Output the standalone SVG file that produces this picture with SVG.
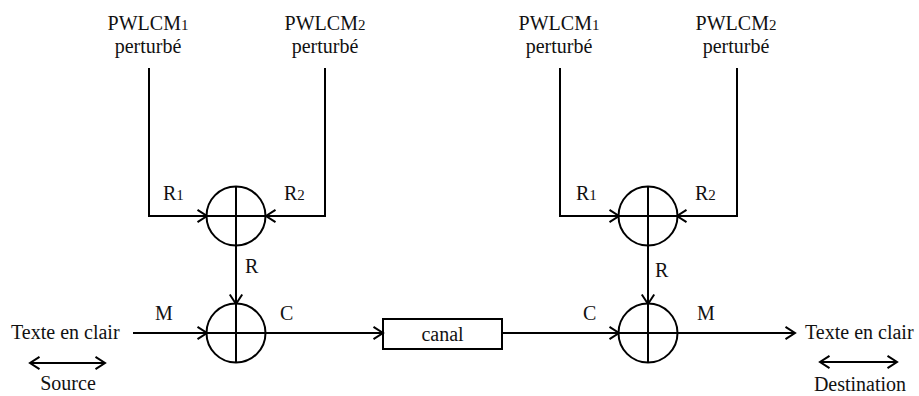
<svg xmlns="http://www.w3.org/2000/svg" width="919" height="396" viewBox="0 0 919 396">
<defs>
<marker id="arr" markerUnits="userSpaceOnUse" markerWidth="16" markerHeight="16" refX="11" refY="7" orient="auto-start-reverse" viewBox="0 0 16 14">
<path d="M1.5,0.8 L11,7 L1.5,13.2" fill="none" stroke="#000" stroke-width="2"/>
</marker>
</defs>
<style>
text{font-family:'Liberation Serif','Tinos','Times New Roman','DejaVu Serif',serif;font-size:20px;fill:#111}
.ln{fill:none;stroke:#000;stroke-width:2}
.sub{font-size:15px}
</style>
<rect width="919" height="396" fill="#fff"/>
<g id="connectors">
<polyline class="ln" points="149,68 149,216 207,216" marker-end="url(#arr)"/>
<polyline class="ln" points="325,68 325,216 266,216" marker-end="url(#arr)"/>
<line class="ln" x1="236" y1="245" x2="236" y2="304" marker-end="url(#arr)"/>
<line class="ln" x1="133" y1="333" x2="207" y2="333" marker-end="url(#arr)"/>
<line class="ln" x1="266" y1="333" x2="383" y2="333" marker-end="url(#arr)"/>
<polyline class="ln" points="560,68 560,216 619,216" marker-end="url(#arr)"/>
<polyline class="ln" points="737,68 737,216 677,216" marker-end="url(#arr)"/>
<line class="ln" x1="648" y1="245" x2="648" y2="304" marker-end="url(#arr)"/>
<line class="ln" x1="502" y1="333" x2="619" y2="333" marker-end="url(#arr)"/>
<line class="ln" x1="677" y1="333" x2="795" y2="333" marker-end="url(#arr)"/>
<line class="ln" x1="30" y1="363" x2="105" y2="363" marker-start="url(#arr)" marker-end="url(#arr)"/>
<line class="ln" x1="820" y1="362" x2="897" y2="362" marker-start="url(#arr)" marker-end="url(#arr)"/>
</g>
<g id="xor1"><circle class="ln" cx="236" cy="216" r="29.5"/><line class="ln" x1="236" y1="186.5" x2="236" y2="245.5"/><line class="ln" x1="206.5" y1="216" x2="265.5" y2="216"/></g>
<g id="xor2"><circle class="ln" cx="236" cy="333" r="29.5"/><line class="ln" x1="236" y1="303.5" x2="236" y2="362.5"/><line class="ln" x1="206.5" y1="333" x2="265.5" y2="333"/></g>
<g id="xor3"><circle class="ln" cx="648" cy="216" r="29.5"/><line class="ln" x1="648" y1="186.5" x2="648" y2="245.5"/><line class="ln" x1="618.5" y1="216" x2="677.5" y2="216"/></g>
<g id="xor4"><circle class="ln" cx="648" cy="333" r="29.5"/><line class="ln" x1="648" y1="303.5" x2="648" y2="362.5"/><line class="ln" x1="618.5" y1="333" x2="677.5" y2="333"/></g>
<g id="canal"><rect class="ln" x="383" y="319" width="119" height="30"/><text x="442.5" y="341" text-anchor="middle">canal</text></g>
<g id="pwlcm1-src"><text x="148" y="30" text-anchor="middle">PWLCM<tspan class="sub">1</tspan></text><text x="148" y="53" text-anchor="middle">perturbé</text></g>
<g id="pwlcm2-src"><text x="325" y="30" text-anchor="middle">PWLCM<tspan class="sub">2</tspan></text><text x="325" y="53" text-anchor="middle">perturbé</text></g>
<g id="pwlcm1-dst"><text x="559" y="30" text-anchor="middle">PWLCM<tspan class="sub">1</tspan></text><text x="559" y="53" text-anchor="middle">perturbé</text></g>
<g id="pwlcm2-dst"><text x="736" y="30" text-anchor="middle">PWLCM<tspan class="sub">2</tspan></text><text x="736" y="53" text-anchor="middle">perturbé</text></g>
<g id="labels">
<text x="163" y="200">R<tspan class="sub">1</tspan></text>
<text x="284" y="200">R<tspan class="sub">2</tspan></text>
<text x="576" y="200">R<tspan class="sub">1</tspan></text>
<text x="695" y="200">R<tspan class="sub">2</tspan></text>
<text x="245" y="273">R</text>
<text x="655" y="277">R</text>
<text x="155" y="320">M</text>
<text x="280" y="320">C</text>
<text x="583" y="320">C</text>
<text x="697" y="320">M</text>
</g>
<g id="source"><text x="11" y="339">Texte en clair</text><text x="68" y="390" text-anchor="middle">Source</text></g>
<g id="destination"><text x="805" y="339">Texte en clair</text><text x="860" y="391" text-anchor="middle">Destination</text></g>
</svg>
